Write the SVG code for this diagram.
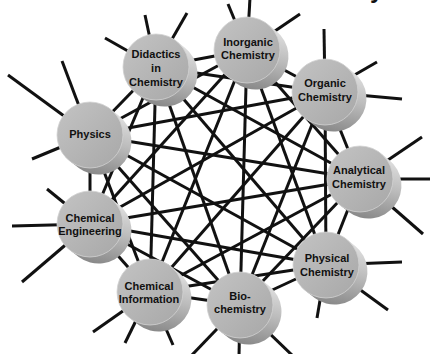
<svg xmlns="http://www.w3.org/2000/svg" xmlns:xlink="http://www.w3.org/1999/xlink" width="430" height="354" viewBox="0 0 430 354">
<style>
.e{stroke:#111;stroke-width:3;fill:none}
.s{stroke:#111;stroke-width:3}
.t{font-family:"Liberation Sans",Arial,Helvetica,sans-serif;font-weight:bold;font-size:11px;fill:#111;text-anchor:middle}
</style>
<defs>
<linearGradient id="gFace" gradientUnits="userSpaceOnUse" x1="-25" y1="-25" x2="25" y2="25">
<stop offset="0" stop-color="#c0c0c0"/><stop offset="1" stop-color="#ababab"/>
</linearGradient>
<linearGradient id="gSide" gradientUnits="userSpaceOnUse" x1="25" y1="-25" x2="10" y2="40">
<stop offset="0" stop-color="#e4e4e4"/><stop offset="0.5" stop-color="#bcbcbc"/><stop offset="1" stop-color="#8a8a8a"/>
</linearGradient>
<g id="disc">
<path d="M-20.26,26.04 L-11.26,33.04 A33,33 0 0 0 29.26,-19.04 L20.26,-26.04 A33,33 0 0 0 -20.26,26.04 Z" fill="url(#gSide)"/>
<circle r="33" fill="url(#gFace)" stroke="#d2d2d2" stroke-width="0.8"/>
</g>
</defs>
<rect width="430" height="354" fill="#fff"/>
<text x="370" y="-2" font-family="Liberation Sans, Arial, sans-serif" font-weight="bold" font-size="24" fill="#111">y</text>
<g id="connectors">
<line class="e" x1="156" y1="67" x2="247" y2="50"/>
<line class="e" x1="156" y1="67" x2="325" y2="92"/>
<line class="e" x1="156" y1="67" x2="90" y2="135"/>
<line class="e" x1="156" y1="67" x2="360" y2="179"/>
<line class="e" x1="156" y1="67" x2="90" y2="224"/>
<line class="e" x1="156" y1="67" x2="326" y2="265"/>
<line class="e" x1="156" y1="67" x2="150" y2="292"/>
<line class="e" x1="156" y1="67" x2="240" y2="305"/>
<line class="e" x1="247" y1="50" x2="325" y2="92"/>
<line class="e" x1="247" y1="50" x2="90" y2="135"/>
<line class="e" x1="247" y1="50" x2="360" y2="179"/>
<line class="e" x1="247" y1="50" x2="90" y2="224"/>
<line class="e" x1="247" y1="50" x2="326" y2="265"/>
<line class="e" x1="247" y1="50" x2="150" y2="292"/>
<line class="e" x1="247" y1="50" x2="240" y2="305"/>
<line class="e" x1="325" y1="92" x2="90" y2="135"/>
<line class="e" x1="325" y1="92" x2="360" y2="179"/>
<line class="e" x1="325" y1="92" x2="90" y2="224"/>
<line class="e" x1="325" y1="92" x2="326" y2="265"/>
<line class="e" x1="325" y1="92" x2="150" y2="292"/>
<line class="e" x1="325" y1="92" x2="240" y2="305"/>
<line class="e" x1="90" y1="135" x2="360" y2="179"/>
<line class="e" x1="90" y1="135" x2="90" y2="224"/>
<line class="e" x1="90" y1="135" x2="326" y2="265"/>
<line class="e" x1="90" y1="135" x2="150" y2="292"/>
<line class="e" x1="90" y1="135" x2="240" y2="305"/>
<line class="e" x1="360" y1="179" x2="90" y2="224"/>
<line class="e" x1="360" y1="179" x2="326" y2="265"/>
<line class="e" x1="360" y1="179" x2="150" y2="292"/>
<line class="e" x1="360" y1="179" x2="240" y2="305"/>
<line class="e" x1="90" y1="224" x2="326" y2="265"/>
<line class="e" x1="90" y1="224" x2="150" y2="292"/>
<line class="e" x1="90" y1="224" x2="240" y2="305"/>
<line class="e" x1="326" y1="265" x2="150" y2="292"/>
<line class="e" x1="326" y1="265" x2="240" y2="305"/>
<line class="e" x1="150" y1="292" x2="240" y2="305"/>
</g>
<g id="didactics" transform="translate(156,67)">
<line class="s" x1="0" y1="0" x2="-51" y2="-29"/>
<line class="s" x1="0" y1="0" x2="-11" y2="-52"/>
<line class="s" x1="0" y1="0" x2="31" y2="-54"/>
<use xlink:href="#disc"/>
<text class="t" y="-9">Didactics</text>
<text class="t" y="5">in</text>
<text class="t" y="19">Chemistry</text>
</g>
<g id="inorganic" transform="translate(247,50)">
<line class="s" x1="0" y1="0" x2="-19" y2="-46"/>
<line class="s" x1="0" y1="0" x2="3" y2="-52"/>
<line class="s" x1="0" y1="0" x2="53" y2="-36"/>
<use xlink:href="#disc"/>
<text class="t" x="1" y="-4">Inorganic</text>
<text class="t" x="1" y="9">Chemistry</text>
</g>
<g id="organic" transform="translate(325,92)">
<line class="s" x1="0" y1="0" x2="-1" y2="-63"/>
<line class="s" x1="0" y1="0" x2="52" y2="-30"/>
<line class="s" x1="0" y1="0" x2="77" y2="7"/>
<use xlink:href="#disc"/>
<text class="t" y="-5">Organic</text>
<text class="t" y="9">Chemistry</text>
</g>
<g id="physics" transform="translate(90,135)">
<line class="s" x1="0" y1="0" x2="-82" y2="-60"/>
<line class="s" x1="0" y1="0" x2="-28" y2="-74"/>
<line class="s" x1="0" y1="0" x2="-58" y2="24"/>
<use xlink:href="#disc"/>
<text class="t" y="3">Physics</text>
</g>
<g id="analytical" transform="translate(360,179)">
<line class="s" x1="0" y1="0" x2="62" y2="-42"/>
<line class="s" x1="0" y1="0" x2="70" y2="0"/>
<line class="s" x1="0" y1="0" x2="63" y2="55"/>
<use xlink:href="#disc"/>
<text class="t" x="-1" y="-5">Analytical</text>
<text class="t" x="-1" y="9">Chemistry</text>
</g>
<g id="engineering" transform="translate(90,224)">
<line class="s" x1="0" y1="0" x2="-43" y2="-35"/>
<line class="s" x1="0" y1="0" x2="-78" y2="2"/>
<line class="s" x1="0" y1="0" x2="-68" y2="58"/>
<use xlink:href="#disc"/>
<text class="t" y="-2">Chemical</text>
<text class="t" y="11">Engineering</text>
</g>
<g id="physical" transform="translate(326,265)">
<line class="s" x1="0" y1="0" x2="-9" y2="53"/>
<line class="s" x1="0" y1="0" x2="62" y2="45"/>
<line class="s" x1="0" y1="0" x2="76" y2="-3"/>
<use xlink:href="#disc"/>
<text class="t" x="1" y="-3">Physical</text>
<text class="t" x="1" y="11">Chemistry</text>
</g>
<g id="information" transform="translate(150,292)">
<line class="s" x1="0" y1="0" x2="-57" y2="40"/>
<line class="s" x1="0" y1="0" x2="-25" y2="51"/>
<line class="s" x1="0" y1="0" x2="23" y2="53"/>
<use xlink:href="#disc"/>
<text class="t" x="-1" y="-2">Chemical</text>
<text class="t" x="-1" y="11">Information</text>
</g>
<g id="biochemistry" transform="translate(240,305)">
<line class="s" x1="0" y1="0" x2="-49" y2="51"/>
<line class="s" x1="0" y1="0" x2="-1" y2="52"/>
<line class="s" x1="0" y1="0" x2="54" y2="52"/>
<use xlink:href="#disc"/>
<text class="t" y="-5">Bio-</text>
<text class="t" y="8">chemistry</text>
</g>
</svg>
